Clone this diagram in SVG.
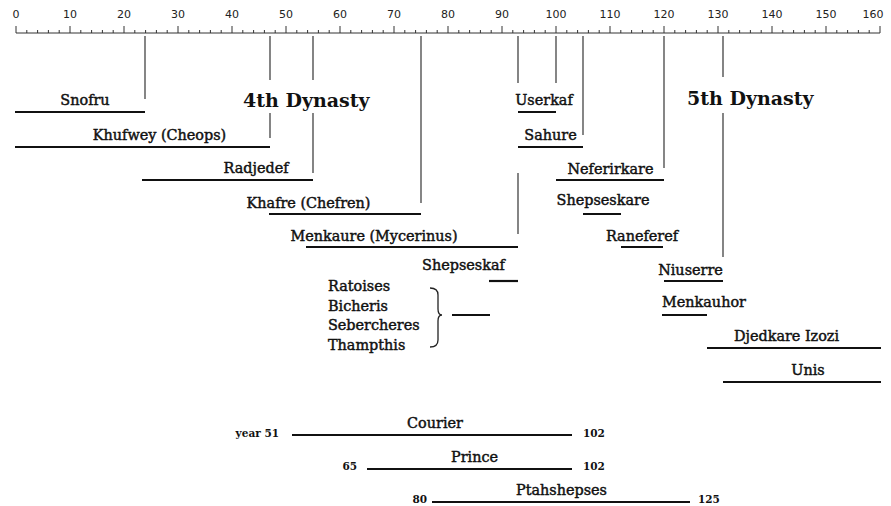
<svg xmlns="http://www.w3.org/2000/svg" width="891" height="506" viewBox="0 0 891 506">
<style>
.ax{font-family:"DejaVu Sans",sans-serif;font-size:11px;fill:#222;text-anchor:middle}
.lb{font-family:"DejaVu Serif",serif;font-size:14.4px;fill:#111;stroke:#111;stroke-width:0.45;text-anchor:middle}
.ll{font-family:"DejaVu Serif",serif;font-size:14.4px;fill:#111;stroke:#111;stroke-width:0.45}
.dy{font-family:"DejaVu Serif",serif;font-size:19px;font-weight:bold;fill:#111}
.nm{font-family:"DejaVu Serif",serif;font-size:10.5px;font-weight:bold;fill:#111}
.bar{stroke:#111;stroke-width:2.2;fill:none}
.con{stroke:#444;stroke-width:1.3;fill:none}
.tk{stroke:#333;stroke-width:1;fill:none}
</style>
<rect width="891" height="506" fill="#fff"/>
<g id="axis">
<line class="tk" x1="16" y1="33" x2="880" y2="33"/>
<path class="tk" d="M16 26V33M70 26V33M124 26V33M178 26V33M232 26V33M286 26V33M340 26V33M394 26V33M448 26V33M502 26V33M556 26V33M610 26V33M664 26V33M718 26V33M772 26V33M826 26V33M880 26V33"/>
<path class="tk" d="M26.8 30V33M37.6 30V33M48.4 30V33M59.2 30V33M80.8 30V33M91.6 30V33M102.4 30V33M113.2 30V33M134.8 30V33M145.6 30V33M156.4 30V33M167.2 30V33M188.8 30V33M199.6 30V33M210.4 30V33M221.2 30V33M242.8 30V33M253.6 30V33M264.4 30V33M275.2 30V33M296.8 30V33M307.6 30V33M318.4 30V33M329.2 30V33M350.8 30V33M361.6 30V33M372.4 30V33M383.2 30V33M404.8 30V33M415.6 30V33M426.4 30V33M437.2 30V33M458.8 30V33M469.6 30V33M480.4 30V33M491.2 30V33M512.8 30V33M523.6 30V33M534.4 30V33M545.2 30V33M566.8 30V33M577.6 30V33M588.4 30V33M599.2 30V33M620.8 30V33M631.6 30V33M642.4 30V33M653.2 30V33M674.8 30V33M685.6 30V33M696.4 30V33M707.2 30V33M728.8 30V33M739.6 30V33M750.4 30V33M761.2 30V33M782.8 30V33M793.6 30V33M804.4 30V33M815.2 30V33M836.8 30V33M847.6 30V33M858.4 30V33M869.2 30V33"/>
<text class="ax" x="16" y="18">0</text>
<text class="ax" x="70" y="18">10</text>
<text class="ax" x="124" y="18">20</text>
<text class="ax" x="178" y="18">30</text>
<text class="ax" x="232" y="18">40</text>
<text class="ax" x="286" y="18">50</text>
<text class="ax" x="340" y="18">60</text>
<text class="ax" x="394" y="18">70</text>
<text class="ax" x="448" y="18">80</text>
<text class="ax" x="502" y="18">90</text>
<text class="ax" x="556" y="18">100</text>
<text class="ax" x="610" y="18">110</text>
<text class="ax" x="664" y="18">120</text>
<text class="ax" x="718" y="18">130</text>
<text class="ax" x="772" y="18">140</text>
<text class="ax" x="826" y="18">150</text>
<text class="ax" x="873" y="18">160</text>
</g>
<g id="connectors">
<path class="con" d="M145 36V99"/>
<path class="con" d="M270 36V80M270 113V138"/>
<path class="con" d="M313 36V80M313 113V173"/>
<path class="con" d="M421 36V203"/>
<path class="con" d="M518 36V83M518 173V234"/>
<path class="con" d="M556 36V83"/>
<path class="con" d="M583 36V135"/>
<path class="con" d="M664 36V168"/>
<path class="con" d="M723 36V77M723 113V257"/>
</g>
<g id="dyn4"><text class="dy" x="243" y="107">4th Dynasty</text></g>
<g id="dyn5"><text class="dy" x="687" y="105">5th Dynasty</text></g>
<g id="snofru"><line class="bar" x1="15" y1="112" x2="145" y2="112"/><text class="lb" x="85" y="105">Snofru</text></g>
<g id="khufwey"><line class="bar" x1="15" y1="147" x2="270" y2="147"/><text class="lb" x="159.5" y="140">Khufwey (Cheops)</text></g>
<g id="radjedef"><line class="bar" x1="142" y1="180" x2="313" y2="180"/><text class="lb" x="256" y="173">Radjedef</text></g>
<g id="khafre"><line class="bar" x1="269" y1="214" x2="421" y2="214"/><text class="lb" x="308.5" y="208">Khafre (Chefren)</text></g>
<g id="menkaure"><line class="bar" x1="306" y1="247" x2="518" y2="247"/><text class="lb" x="374" y="241">Menkaure (Mycerinus)</text></g>
<g id="shepseskaf"><line class="bar" x1="489" y1="281" x2="518" y2="281"/><text class="lb" x="463.5" y="270">Shepseskaf</text></g>
<g id="ratoises">
<text class="ll" x="328" y="291">Ratoises</text>
<text class="ll" x="328" y="311">Bicheris</text>
<text class="ll" x="328" y="330">Sebercheres</text>
<text class="ll" x="328" y="350">Thampthis</text>
<path d="M430 288Q438 288 438 295V309Q438 315 442 315Q438 315 438 321V340Q438 347 430 347" fill="none" stroke="#222" stroke-width="1.3"/>
<line class="bar" x1="452" y1="315" x2="490" y2="315"/>
</g>
<g id="userkaf"><line class="bar" x1="518" y1="112" x2="556" y2="112"/><text class="lb" x="544" y="105">Userkaf</text></g>
<g id="sahure"><line class="bar" x1="518" y1="147" x2="583" y2="147"/><text class="lb" x="550.5" y="140">Sahure</text></g>
<g id="neferirkare"><line class="bar" x1="556" y1="180" x2="664" y2="180"/><text class="lb" x="610.5" y="174">Neferirkare</text></g>
<g id="shepseskare"><line class="bar" x1="583" y1="214" x2="621" y2="214"/><text class="lb" x="603" y="205">Shepseskare</text></g>
<g id="raneferef"><line class="bar" x1="621" y1="247" x2="663" y2="247"/><text class="lb" x="642" y="241">Raneferef</text></g>
<g id="niuserre"><line class="bar" x1="664" y1="281" x2="723" y2="281"/><text class="lb" x="690.5" y="275">Niuserre</text></g>
<g id="menkauhor"><line class="bar" x1="662" y1="315" x2="707" y2="315"/><text class="lb" x="704" y="307">Menkauhor</text></g>
<g id="djedkare"><line class="bar" x1="707" y1="348" x2="881" y2="348"/><text class="lb" x="786.5" y="341">Djedkare Izozi</text></g>
<g id="unis"><line class="bar" x1="723" y1="382" x2="881" y2="382"/><text class="lb" x="808" y="375">Unis</text></g>
<g id="courier"><text class="nm" x="279" y="437" text-anchor="end">year 51</text><line class="bar" x1="292" y1="435" x2="572" y2="435"/><text class="lb" x="435" y="428">Courier</text><text class="nm" x="583" y="437">102</text></g>
<g id="prince"><text class="nm" x="357" y="470" text-anchor="end">65</text><line class="bar" x1="367" y1="469" x2="572" y2="469"/><text class="lb" x="474.5" y="462">Prince</text><text class="nm" x="583" y="470">102</text></g>
<g id="ptahshepses"><text class="nm" x="427" y="503" text-anchor="end">80</text><line class="bar" x1="432" y1="502" x2="690" y2="502"/><text class="lb" x="561.5" y="495">Ptahshepses</text><text class="nm" x="698" y="503">125</text></g>
</svg>
